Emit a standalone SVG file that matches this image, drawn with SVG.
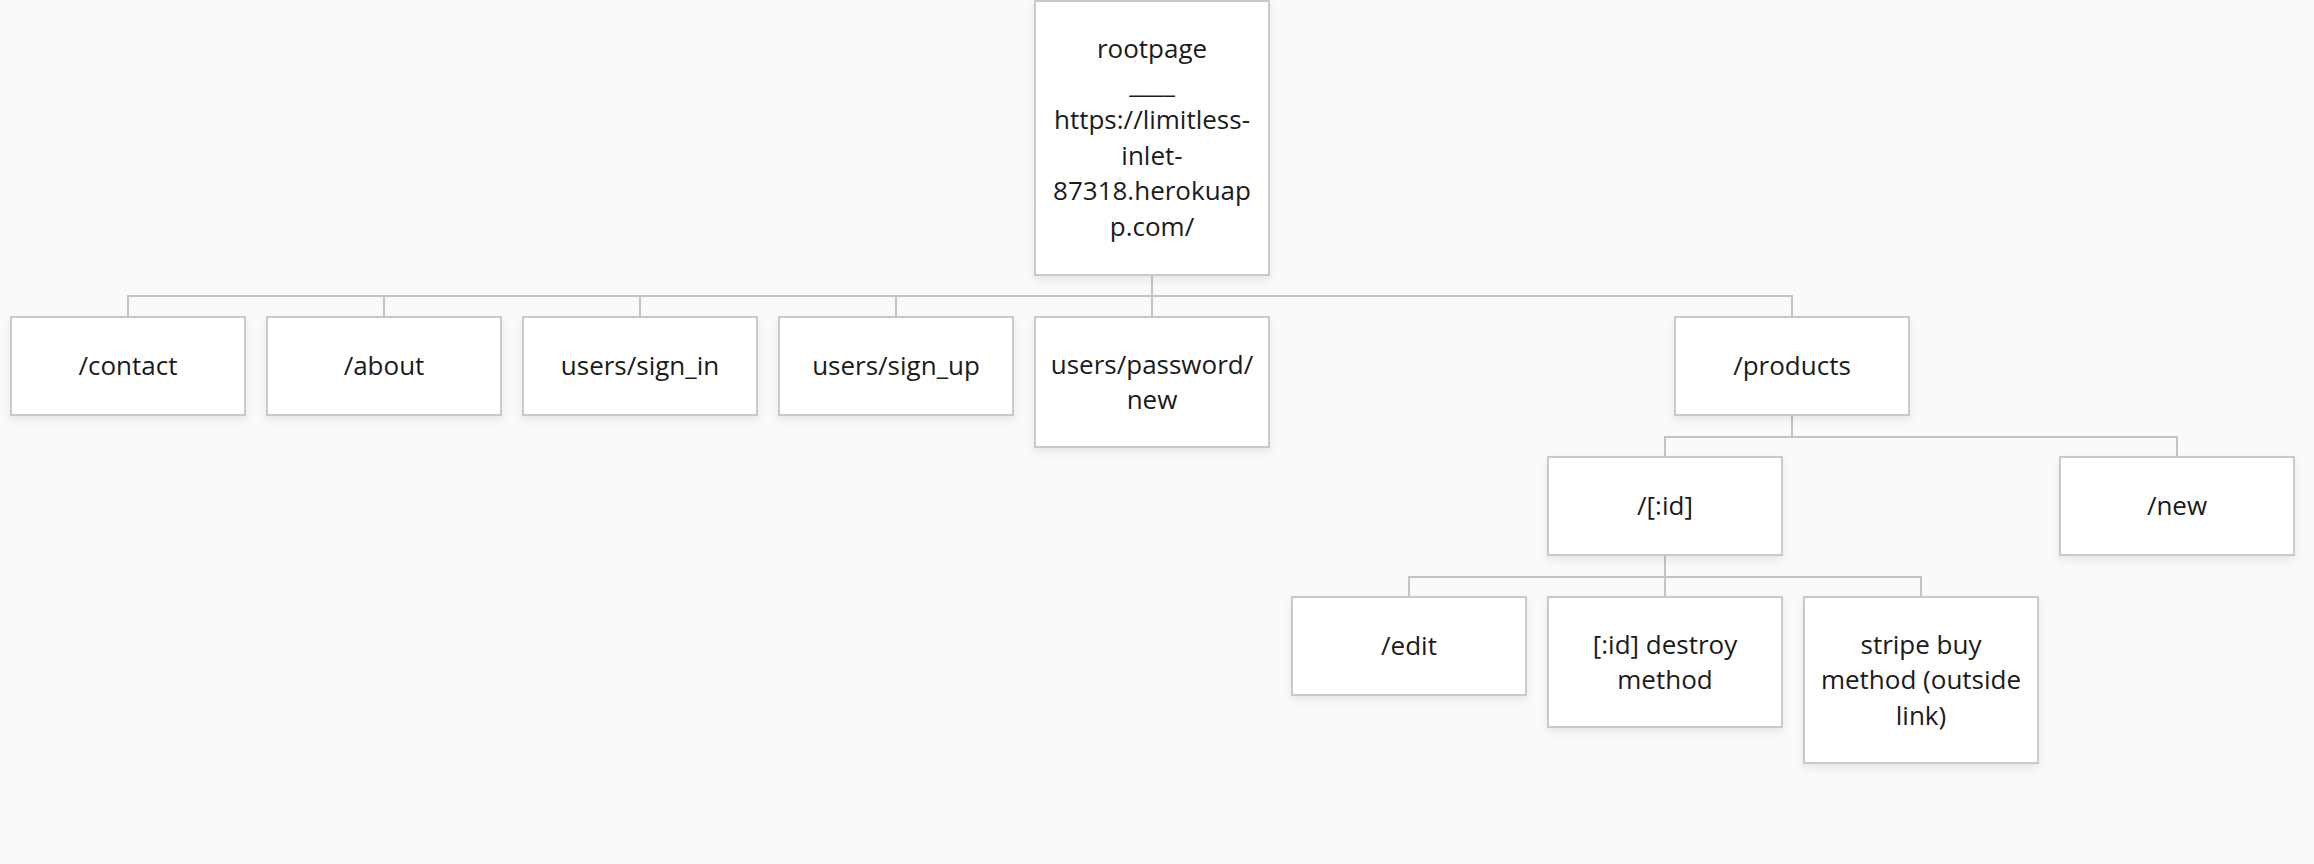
<svg xmlns="http://www.w3.org/2000/svg" width="2314" height="864" viewBox="0 0 2314 864">
<defs>
<style>
.bg{fill:#f9fafb}
.box{fill:#ffffff;stroke:#c9c9c9;stroke-width:2;filter:url(#sh)}
.lbl{font-family:"Open Sans","Noto Sans","Liberation Sans",sans-serif;font-size:26px;fill:#1b1b1b;text-anchor:middle}
.con{fill:none;stroke:#c4c4c4;stroke-width:2}
</style>
<filter id="sh" x="-10%" y="-10%" width="120%" height="130%">
<feDropShadow dx="0" dy="4" stdDeviation="4" flood-color="#000" flood-opacity="0.08"/>
</filter>
</defs>
<rect class="bg" x="0" y="0" width="2314" height="864"/>
<g id="connectors">
<path class="con" d="M1152 275V296M128 317V296H1792V317M384 296V317M640 296V317M896 296V317M1152 296V317"/>
<path class="con" d="M1792 415V437M1665 457V437H2177V457"/>
<path class="con" d="M1665 555V577M1409 597V577H1921V597M1665 577V597"/>
</g>
<g id="root">
<rect class="box" x="1035" y="1" width="234" height="274"/>
<text class="lbl" x="1152" y="58">rootpage</text>
<text class="lbl" x="1152" y="93">____</text>
<text class="lbl" x="1152" y="129">https://limitless-</text>
<text class="lbl" x="1152" y="165">inlet-</text>
<text class="lbl" x="1152" y="200">87318.herokuap</text>
<text class="lbl" x="1152" y="236">p.com/</text>
</g>
<g id="contact">
<rect class="box" x="11" y="317" width="234" height="98"/>
<text class="lbl" x="128" y="375">/contact</text>
</g>
<g id="about">
<rect class="box" x="267" y="317" width="234" height="98"/>
<text class="lbl" x="384" y="375">/about</text>
</g>
<g id="sign_in">
<rect class="box" x="523" y="317" width="234" height="98"/>
<text class="lbl" x="640" y="375">users/sign_in</text>
</g>
<g id="sign_up">
<rect class="box" x="779" y="317" width="234" height="98"/>
<text class="lbl" x="896" y="375">users/sign_up</text>
</g>
<g id="password_new">
<rect class="box" x="1035" y="317" width="234" height="130"/>
<text class="lbl" x="1152" y="374">users/password/</text>
<text class="lbl" x="1152" y="409">new</text>
</g>
<g id="products">
<rect class="box" x="1675" y="317" width="234" height="98"/>
<text class="lbl" x="1792" y="375">/products</text>
</g>
<g id="product_id">
<rect class="box" x="1548" y="457" width="234" height="98"/>
<text class="lbl" x="1665" y="515">/[:id]</text>
</g>
<g id="product_new">
<rect class="box" x="2060" y="457" width="234" height="98"/>
<text class="lbl" x="2177" y="515">/new</text>
</g>
<g id="edit">
<rect class="box" x="1292" y="597" width="234" height="98"/>
<text class="lbl" x="1409" y="655">/edit</text>
</g>
<g id="destroy">
<rect class="box" x="1548" y="597" width="234" height="130"/>
<text class="lbl" x="1665" y="654">[:id] destroy</text>
<text class="lbl" x="1665" y="689">method</text>
</g>
<g id="stripe">
<rect class="box" x="1804" y="597" width="234" height="166"/>
<text class="lbl" x="1921" y="654">stripe buy</text>
<text class="lbl" x="1921" y="689">method (outside</text>
<text class="lbl" x="1921" y="725">link)</text>
</g>
</svg>
